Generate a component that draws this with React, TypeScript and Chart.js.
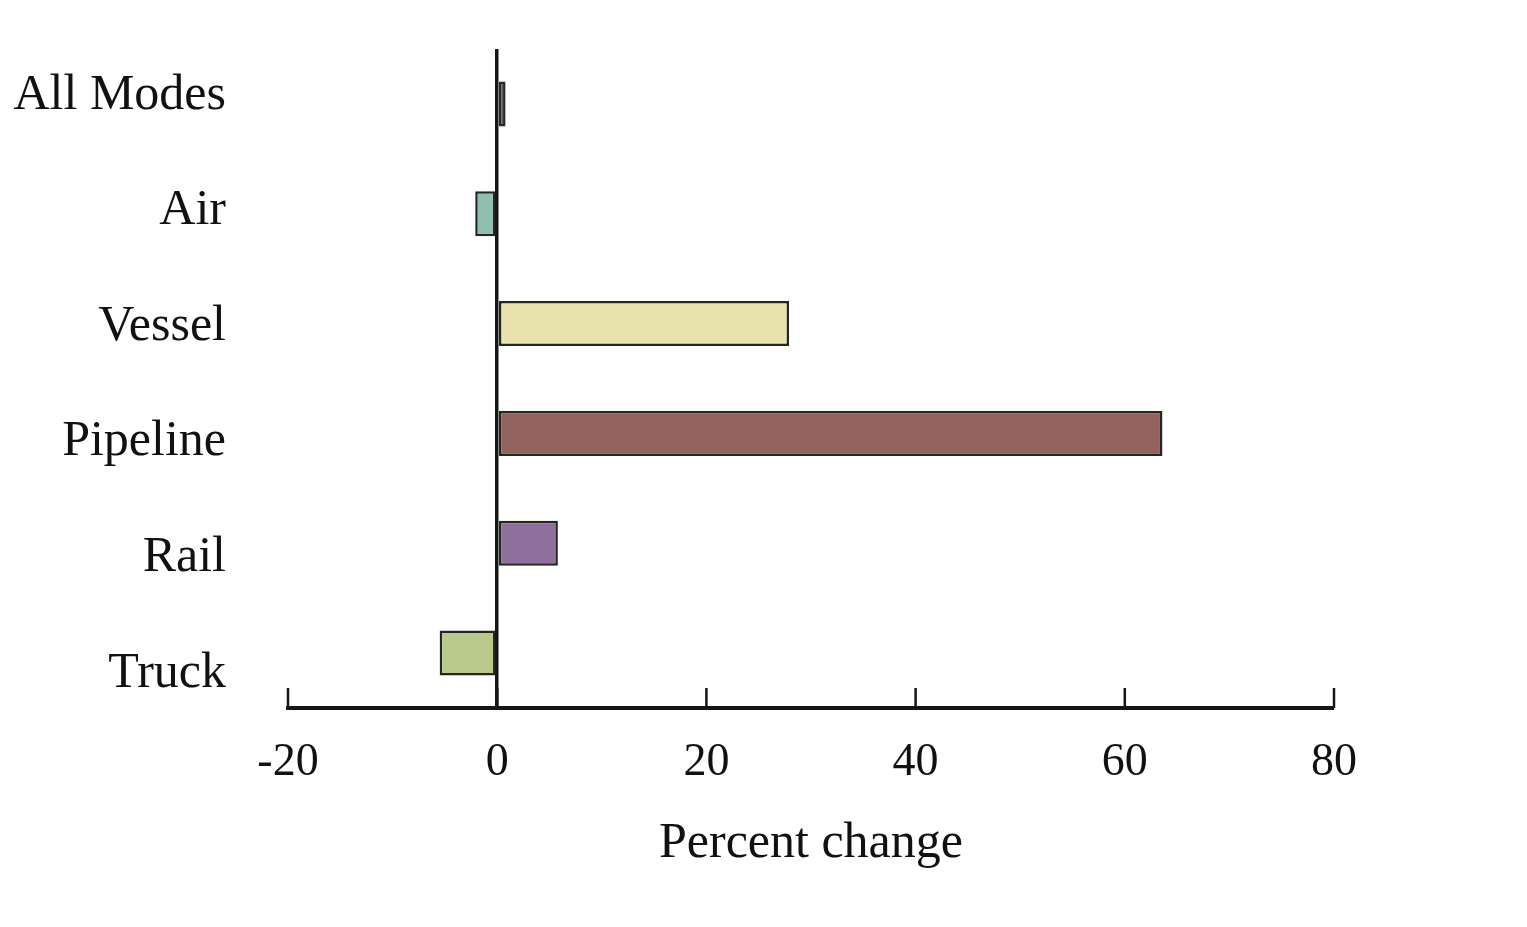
import React, { useEffect, useRef } from 'react';
import { Chart, registerables } from 'chart.js';

Chart.register(...registerables);

const modes = ['All Modes', 'Air', 'Vessel', 'Pipeline', 'Rail', 'Truck'];
const percentChange = [0.8, -2.1, 27.9, 63.6, 5.8, -5.5];
const barColors = ['#5b6169', '#8fbfb1', '#e9e3ad', '#93635e', '#8f6f9b', '#b8c98b'];
const xTicks = [-20, 0, 20, 40, 60, 80];

const FONT = 'Liberation Serif';
const INK = '#161616';

// small upward tick marks sitting on the x axis line
const innerTicks = {
  id: 'innerTicks',
  afterDraw(chart: any) {
    const { ctx, chartArea } = chart;
    const x = chart.scales.x;
    ctx.save();
    ctx.strokeStyle = INK;
    ctx.lineWidth = 2.5;
    x.ticks.forEach((t: any) => {
      const px = x.getPixelForValue(t.value);
      ctx.beginPath();
      ctx.moveTo(px, chartArea.bottom);
      ctx.lineTo(px, chartArea.bottom - 20);
      ctx.stroke();
    });
    ctx.restore();
  },
};

export default function App() {
  const canvasRef = useRef<HTMLCanvasElement>(null);

  useEffect(() => {
    if (!canvasRef.current) return;
    const chart = new Chart(canvasRef.current, {
      type: 'bar',
      data: {
        labels: modes,
        datasets: [{
          data: percentChange,
          backgroundColor: barColors,
          borderColor: '#262520',
          borderWidth: 2.5,
          borderSkipped: false,
          barPercentage: 0.41,
          categoryPercentage: 1,
        }],
      },
      options: {
        indexAxis: 'y',
        animation: false,
        responsive: true,
        maintainAspectRatio: false,
        layout: { padding: { top: 49, left: 0, right: 193, bottom: 0 } },
        plugins: { legend: { display: false }, tooltip: { enabled: false } },
        scales: {
          x: {
            type: 'linear',
            position: 'bottom',
            min: -20,
            max: 80,
            afterBuildTicks: (s: any) => { s.ticks = xTicks.map((v) => ({ value: v })); },
            afterFit: (s: any) => { s.height = 219; },
            grid: {
              drawTicks: false,
              color: (c: any) => (c.tick && c.tick.value === 0 ? INK : 'rgba(0,0,0,0)'),
              lineWidth: (c: any) => (c.tick && c.tick.value === 0 ? 3.5 : 0),
            },
            border: { display: true, color: INK, width: 4 },
            ticks: { font: { family: FONT, size: 46 }, color: '#111', padding: 27 },
            title: {
              display: true,
              text: 'Percent change',
              font: { family: FONT, size: 50 },
              color: '#111',
              padding: { top: 0, bottom: 53 },
            },
          },
          y: { type: 'category', display: false },
          // labels sit on their own axis, spaced a little wider than the bars
          yl: {
            type: 'linear',
            position: 'left',
            reverse: true,
            offset: false,
            min: -0.402,
            max: 5.299,
            afterBuildTicks: (s: any) => { s.ticks = modes.map((_, i) => ({ value: i })); },
            afterFit: (s: any) => {
              s.width = 288;
              s.paddingTop = 0;
              s.paddingBottom = 0;
            },
            grid: { display: false, offset: false },
            border: { display: false },
            ticks: {
              autoSkip: false,
              font: { family: FONT, size: 50 },
              color: '#111',
              padding: 54,
              callback: (v: any) => modes[v as number],
            },
          },
        },
      } as any,
      plugins: [innerTicks],
    });
    return () => chart.destroy();
  }, []);

  return (
    <div style={{ position: 'fixed', left: 0, top: 0, width: 1527, height: 927, background: '#fff' }}>
      <canvas ref={canvasRef}></canvas>
    </div>
  );
}
